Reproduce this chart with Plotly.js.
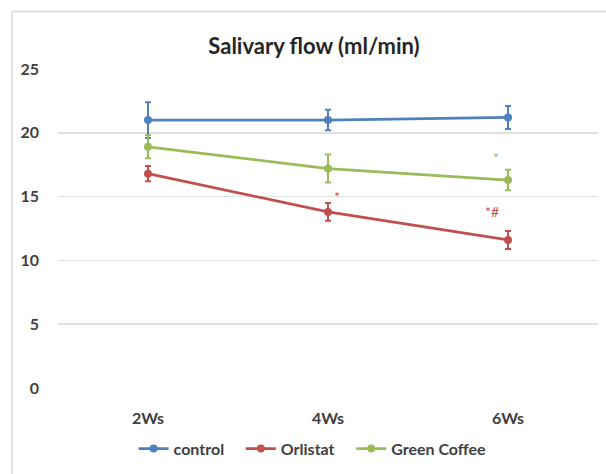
<!DOCTYPE html>
<html>
<head>
<meta charset="utf-8">
<script src="https://cdn.plot.ly/plotly-3.0.1.min.js"></script>
<style>html,body{margin:0;padding:0;background:#fff;}#chart{width:606px;height:474px;}</style>
</head>
<body>
<div id="chart"></div>
<script>
const categories = ["2Ws", "4Ws", "6Ws"];
const seriesNames = ["control", "Orlistat", "Green Coffee"];
const controlValues = [21.0, 21.0, 21.2];
const controlErrors = [1.4, 0.8, 0.9];
const orlistatValues = [16.8, 13.8, 11.6];
const orlistatErrors = [0.6, 0.7, 0.7];
const greenCoffeeValues = [18.9, 17.2, 16.3];
const greenCoffeeErrors = [0.9, 1.1, 0.8];
const yTicks = [0, 5, 10, 15, 20, 25];
const marks = [
  {cat: "4Ws", y: 15.0, text: "*", color: "#C0504D", dx: 9},
  {cat: "6Ws", y: 18.1, text: "*", color: "#9BBB59", dx: -12},
  {cat: "6Ws", y: 13.8, text: "*#", color: "#C0504D", dx: -16}
];

const pad = "\u00a0\u00a0\u00a0";
function series(name, vals, errs, color, padded) {
  return {
    type: "scatter", mode: "lines+markers", name: padded ? name + pad : name,
    x: categories, y: vals,
    line: {color: color, width: 2.75},
    marker: {color: color, size: 8, symbol: "circle"},
    error_y: {type: "data", array: errs, visible: true, color: color, thickness: 2, width: 3}
  };
}

const data = [
  series(seriesNames[0], controlValues, controlErrors, "#4F81BD", true),
  series(seriesNames[1], orlistatValues, orlistatErrors, "#C0504D", true),
  series(seriesNames[2], greenCoffeeValues, greenCoffeeErrors, "#9BBB59", false)
];

const font = "Lato, 'Open Sans', sans-serif";
const layout = {
  width: 606, height: 474,
  margin: {l: 58, r: 8, t: 69, b: 86, autoexpand: false},
  paper_bgcolor: "#fff", plot_bgcolor: "#fff",
  showlegend: true,
  title: {text: "<b>Salivary flow (ml/min)</b>", font: {family: font, size: 22, color: "#262626"},
          x: 0.474, xanchor: "center", xref: "paper", y: 0.903, yanchor: "middle", yref: "container"},
  xaxis: {type: "category", range: [-0.5, 2.5], showgrid: false, zeroline: false, showline: false,
          ticks: "", ticklabelstandoff: 19,
          tickfont: {family: font, size: 16, color: "#404040", weight: "bold"}},
  yaxis: {range: [0, 25], tickvals: yTicks, showgrid: true, gridcolor: "#e0e0e0", gridwidth: 1.5,
          zeroline: false, showline: false, ticks: "", ticklabelstandoff: 18,
          tickfont: {family: font, size: 16, color: "#404040", weight: "bold"}},
  legend: {orientation: "h", x: 0.14, xanchor: "left", y: -0.19, yanchor: "middle",
           font: {family: font, size: 16, color: "#404040", weight: "bold"}, itemwidth: 30,
           traceorder: "normal"},
  annotations: marks.map(m => ({x: m.cat, y: m.y, text: m.text, showarrow: false, xshift: m.dx,
           font: {family: font, size: 14, color: m.color}})),
  shapes: [
    {type: "rect", xref: "paper", yref: "paper", x0: -0.085, x1: 1.03, y0: -0.285, y1: 1.18,
     line: {color: "#d9d9d9", width: 1.5}, fillcolor: "rgba(0,0,0,0)", layer: "below"}
  ]
};

Plotly.newPlot("chart", data, layout, {displayModeBar: false, staticPlot: true});
</script>
</body>
</html>
